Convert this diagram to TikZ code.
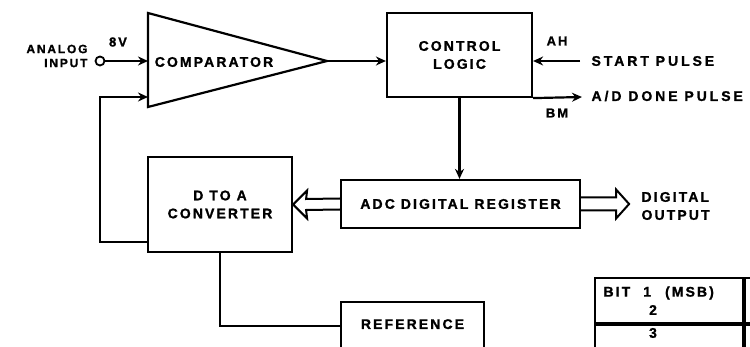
\documentclass[tikz,border=0pt]{standalone}
\usepackage{fontspec}
\setmainfont{Liberation Sans}[LetterSpace=15, BoldFeatures={FakeBold=1.2}]
\usetikzlibrary{positioning,arrows.meta}
\tikzset{
  flowarrow/.style={-{Stealth[length=10pt,width=9pt]}, line width=2.2pt},
  wire/.style={line width=2.2pt},
  blockbox/.style={draw, line width=2.2pt, align=center, inner sep=0pt},
  bus/.style={line width=2pt, line join=miter},
  cell/.style={draw, line width=2pt, inner sep=0pt},
  sig/.style={font=\bfseries\fontsize{13}{15}\selectfont},
  small/.style={font=\bfseries\fontsize{12}{14}\selectfont},
  pulse/.style={font=\bfseries\fontsize{14}{18}\selectfont\addfontfeatures{LetterSpace=21}}
}

\begin{document}
\begin{tikzpicture}[x=1pt, y=-1pt, every node/.style={font=\bfseries\fontsize{14}{18}\selectfont}]
  \clip (0,0) rectangle (750,347);
  % comparator
  \coordinate (comptop) at (148,13);
  \coordinate (compbot) at (148,107);
  \coordinate (comptip) at (327,61);
  \coordinate (compin1) at (148,61);
  \coordinate (compin2) at (148,97);
  \draw[wire, line join=miter] (comptop) -- (comptip) -- (compbot) -- cycle;
  \node (comp) at (214,62) {COMPARATOR};
  % analog input
  \node[draw, circle, line width=1.8pt, minimum size=9pt, inner sep=0pt] (ain) at (100,61) {};
  \node[small, align=right, anchor=east] (ainlbl) at (91,56) {ANALOG\\INPUT};
  \node[sig] (eightv) at (118,42) {8V};
  \draw[flowarrow] (ain) -- (compin1);
  % control logic
  \node[blockbox, minimum width=145pt, minimum height=84pt] (ctrl) at (459.5,55) {CONTROL\\LOGIC};
  \draw[flowarrow] (comptip) -- (comptip -| ctrl.west);
  \node[pulse, anchor=west] (startlbl) at (588,61) {START PULSE};
  \node[pulse, anchor=west] (donelbl) at (588,96) {A/D DONE PULSE};
  \coordinate (startpt) at (580,61);
  \coordinate (doneend) at (582,97);
  \draw[flowarrow] (startpt) -- (startpt -| ctrl.east);
  \draw[flowarrow] (ctrl.south east) -- (doneend);
  \node[sig] (ah) at (557,41) {AH};
  \node[sig] (bm) at (557,113) {BM};
  % register and converter
  \node[blockbox, minimum width=239pt, minimum height=48pt] (reg) at (460.5,204) {ADC DIGITAL REGISTER};
  \draw[flowarrow] (ctrl.south) -- (ctrl.south |- reg.north);
  \node[blockbox, minimum width=144pt, minimum height=95pt] (dac) at (220,204.5) {D TO A\\CONVERTER};
  \draw[bus] ([yshift=5.5pt]reg.west) -- ([yshift=5.5pt,xshift=13pt]dac.east)
    -- ([yshift=14pt,xshift=14pt]dac.east) -- (dac.east)
    -- ([yshift=-14pt,xshift=14pt]dac.east) -- ([yshift=-5.5pt,xshift=13pt]dac.east)
    -- ([yshift=-5.5pt]reg.west);
  \draw[bus] ([yshift=6.5pt]reg.east) -- ++(35,0) -- ++(0,-8) -- ++(13,14.5)
    -- ++(-13,14.5) -- ++(0,-8) -- ([yshift=-6.5pt]reg.east);
  \node[align=left, anchor=west] (outlbl) at (638,206) {DIGITAL\\OUTPUT};
  % feedback
  \draw[flowarrow] ([yshift=11pt]dac.south west) -| (ain |- compin2) -- (compin2);
  % reference
  \node[blockbox, minimum width=143pt, text height=10pt, text depth=40pt, inner ysep=17pt, anchor=base] (ref) at (412.5,329) {REFERENCE};
  \draw[wire] (dac.south) |- (ref.mid west);
  % bit table
  \node[cell, minimum width=148pt, minimum height=45pt] (bitone) at (669,300.5) {};
  \node[cell, minimum width=148pt, minimum height=60pt, anchor=north] (bitthree) at (bitone.south) {};
  \node[cell, minimum width=60pt, minimum height=45pt, anchor=west] (colone) at (bitone.east) {};
  \node[cell, minimum width=60pt, minimum height=60pt, anchor=north] (colthree) at (colone.south) {};
  \node[anchor=west] (bitlbl) at (600,293) {BIT\hspace{13pt}1\hspace{14pt}(MSB)};
  \node (bittwo) at (653,310) {2};
  \node (bitthr) at (653,333) {3};
\end{tikzpicture}
\end{document}
